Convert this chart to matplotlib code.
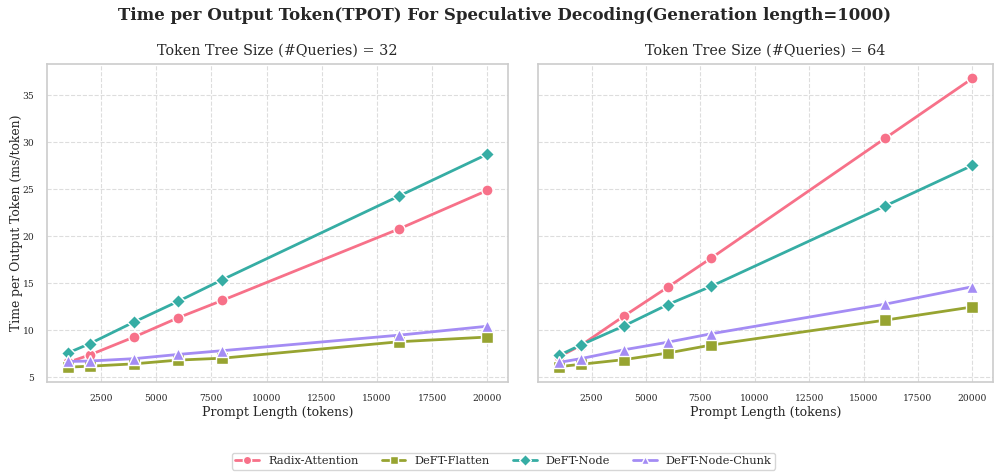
import matplotlib
matplotlib.use("Agg")
import matplotlib.pyplot as plt
import seaborn as sns
import numpy as np

sns.set_theme(style="whitegrid")
plt.rcParams['font.family'] = ['DejaVu Serif']

prompt_len = [1000, 2000, 4000, 6000, 8000, 16000, 20000]
methods = ["Radix-Attention", "DeFT-Flatten", "DeFT-Node", "DeFT-Node-Chunk"]
markers = ["o", "s", "D", "^"]

q32_radix = [6.6, 7.4, 9.3, 11.35, 13.2, 20.8, 24.9]
q32_flatten = [6.1, 6.2, 6.45, 6.85, 7.05, 8.8, 9.3]
q32_node = [7.6, 8.6, 10.9, 13.1, 15.4, 24.3, 28.75]
q32_chunk = [6.7, 6.75, 7.0, 7.45, 7.85, 9.5, 10.45]

q64_radix = [7.2, 8.4, 11.55, 14.6, 17.7, 30.45, 36.8]
q64_flatten = [6.15, 6.4, 6.9, 7.6, 8.45, 11.1, 12.5]
q64_node = [7.35, 8.45, 10.5, 12.75, 14.7, 23.25, 27.55]
q64_chunk = [6.6, 7.0, 7.95, 8.75, 9.65, 12.8, 14.65]

panels = [
    ("Token Tree Size (#Queries) = 32", [q32_radix, q32_flatten, q32_node, q32_chunk]),
    ("Token Tree Size (#Queries) = 64", [q64_radix, q64_flatten, q64_node, q64_chunk]),
]

colors = sns.color_palette("husl", 4)

fig = plt.figure(figsize=(9.95, 4.74), dpi=100)
ax1 = fig.add_axes([0.047, 0.195, 0.464, 0.67])
ax2 = fig.add_axes([0.541, 0.195, 0.457, 0.67], sharey=ax1)
axes = [ax1, ax2]

for ax, (title, series) in zip(axes, panels):
    for name, vals, m, c in zip(methods, series, markers, colors):
        ax.plot(prompt_len, vals, marker=m, color=c, label=name, linewidth=2,
                markersize=8 if m != "D" else 7.5, markeredgecolor="white", markeredgewidth=1)
    ax.set_title(title, fontsize=10.4, pad=7)
    ax.set_xlabel("Prompt Length (tokens)", fontsize=9, labelpad=2)
    ax.grid(True, linestyle="--", color="#dddddd", linewidth=0.8)
    ax.tick_params(labelsize=6.6, pad=3)
    ax.set_xticks([2500, 5000, 7500, 10000, 12500, 15000, 17500, 20000])
    for s in ax.spines.values():
        s.set_color("#cccccc")
        s.set_linewidth(1.2)

ax1.set_yticks([5, 10, 15, 20, 25, 30, 35])
ax1.set_ylabel("Time per Output Token (ms/token)", fontsize=8.9, labelpad=0)
plt.setp(ax2.get_yticklabels(), visible=False)

fig.suptitle("Time per Output Token(TPOT) For Speculative Decoding(Generation length=1000)",
             fontsize=12, fontweight="bold", x=0.507, y=0.985)

handles, labels = ax1.get_legend_handles_labels()
fig.legend(handles, labels, loc="center", bbox_to_anchor=(0.506, 0.027), ncol=4,
           fontsize=8.2, frameon=True, handlelength=2.1, columnspacing=2.0,
           borderpad=0.3, handletextpad=0.8, markerscale=0.75)

fig.savefig("out.png", dpi=100)
